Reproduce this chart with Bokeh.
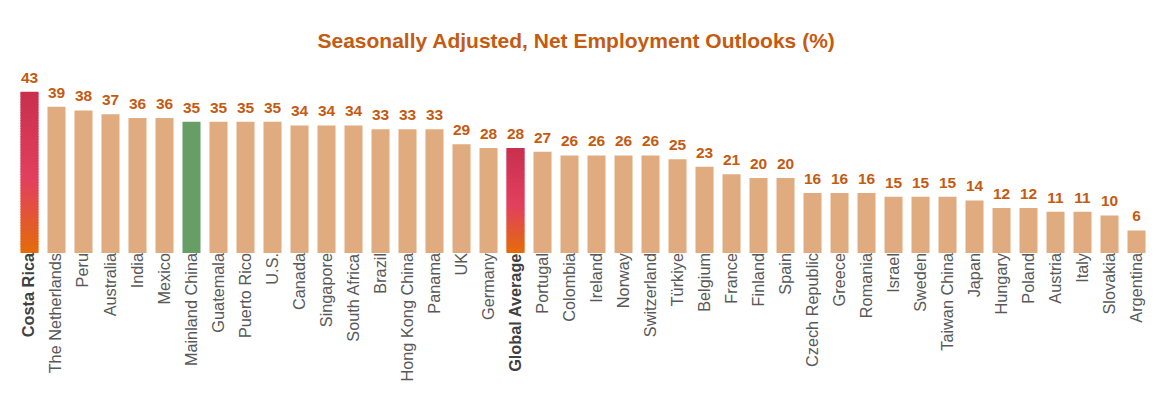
import numpy as np
from bokeh.plotting import figure
from bokeh.models import ColumnDataSource, Range1d, Label
from bokeh.core.properties import value
from bokeh.embed import file_html
from bokeh.resources import INLINE

countries = ["Costa Rica", "The Netherlands", "Peru", "Australia", "India", "Mexico",
             "Mainland China", "Guatemala", "Puerto Rico", "U.S.", "Canada", "Singapore",
             "South Africa", "Brazil", "Hong Kong China", "Panama", "UK", "Germany",
             "Global Average", "Portugal", "Colombia", "Ireland", "Norway", "Switzerland",
             "Türkiye", "Belgium", "France", "Finland", "Spain", "Czech Republic", "Greece",
             "Romania", "Israel", "Sweden", "Taiwan China", "Japan", "Hungary", "Poland",
             "Austria", "Italy", "Slovakia", "Argentina"]
outlooks = [43, 39, 38, 37, 36, 36, 35, 35, 35, 35, 34, 34, 34, 33, 33, 33, 29, 28,
            28, 27, 26, 26, 26, 26, 25, 23, 21, 20, 20, 16, 16, 16, 15, 15, 15, 14,
            12, 12, 11, 11, 10, 6]
highlight = ["Costa Rica", "Global Average"]
green = ["Mainland China"]

TAN = "#E0AB7E"
GREEN = "#679E66"
LABEL = "#C55A11"
FONT = "Liberation Sans"

n = len(countries)
idx = np.arange(n)

p = figure(width=1156, height=387, output_backend="svg", toolbar_location=None,
           x_range=Range1d(-1.074, 41.74), y_range=Range1d(-35.87, 67.33),
           min_border=0, outline_line_color=None)
p.xaxis.visible = False
p.yaxis.visible = False
p.grid.visible = False
p.background_fill_color = "white"

# plain / green bars
plain_x, plain_v, plain_c = [], [], []
for i, (c, v) in enumerate(zip(countries, outlooks)):
    if c in highlight:
        continue
    plain_x.append(i)
    plain_v.append(v)
    plain_c.append(GREEN if c in green else TAN)
p.vbar(x=plain_x, top=plain_v, bottom=0, width=0.667, fill_color=plain_c, line_color=None)

# gradient bars
stops_t = [0.0, 0.45, 1.0]
stops_c = [(228, 108, 10), (226, 64, 94), (200, 48, 78)]
def grad(t):
    for k in range(len(stops_t) - 1):
        if t <= stops_t[k + 1]:
            f = (t - stops_t[k]) / (stops_t[k + 1] - stops_t[k])
            a, b = stops_c[k], stops_c[k + 1]
            return "#%02x%02x%02x" % tuple(int(round(a[j] + (b[j] - a[j]) * f)) for j in range(3))
    return "#%02x%02x%02x" % stops_c[-1]

N = 60
gx, gb, gt, gc = [], [], [], []
for i, (c, v) in enumerate(zip(countries, outlooks)):
    if c not in highlight:
        continue
    for k in range(N):
        gx.append(i)
        gb.append(v * k / N)
        gt.append(min(v, v * (k + 1) / N + 0.35))
        gc.append(grad((k + 0.5) / N))
p.vbar(x=gx, top=gt, bottom=gb, width=0.667, fill_color=gc, line_color=None)

# value labels
vsrc = ColumnDataSource(dict(x=idx, y=outlooks, t=[str(v) for v in outlooks]))
p.text(x="x", y="y", text="t", source=vsrc, text_align="center", text_baseline="alphabetic",
       y_offset=-14, text_font=value(FONT), text_font_size="15.5px", text_font_style="bold",
       text_color=LABEL)

# category labels
styles = ["bold" if c in highlight else "normal" for c in countries]
colors = ["#404040" if c in highlight else "#595959" for c in countries]
csrc = ColumnDataSource(dict(x=idx, y=[0] * n, t=countries, s=styles, c=colors))
p.text(x="x", y="y", text="t", source=csrc, angle=np.pi / 2, text_align="right",
       text_baseline="middle", y_offset=0, x_offset=-1, text_font=value(FONT),
       text_font_size="16.3px", text_font_style="s", text_color="c")

title = Label(x=20.26, y=56.67, text="Seasonally Adjusted, Net Employment Outlooks (%)",
              text_align="center", text_baseline="middle", text_font=FONT,
              text_font_size="21px", text_font_style="bold", text_color=LABEL)
p.add_layout(title)

open("out.html", "w").write(file_html(p, INLINE))
